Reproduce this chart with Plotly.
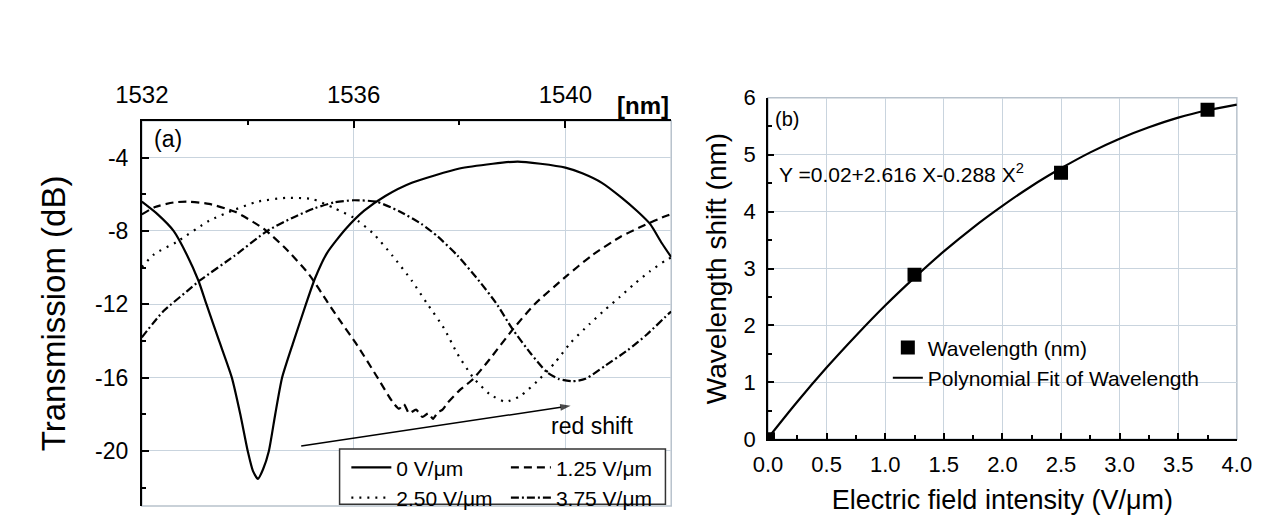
import plotly.graph_objects as go

# ---------------- Panel (a): transmission spectra ----------------
wl_0 = [1532.00, 1532.30, 1532.60, 1532.85, 1533.07, 1533.22, 1533.46, 1533.70, 1533.86, 1534.00,
        1534.10, 1534.195, 1534.29, 1534.40, 1534.52, 1534.65, 1534.87, 1535.10, 1535.27, 1535.50,
        1535.85, 1536.20, 1536.60, 1537.10, 1538.00, 1538.63, 1539.10, 1539.53, 1540.00, 1540.32,
        1540.69, 1541.05, 1541.36, 1541.60, 1541.82, 1542.00]
tr_0 = [-6.41, -7.10, -8.00, -9.30, -10.72, -12.00, -14.00, -16.00, -18.00, -20.00,
        -21.10, -21.52, -21.00, -20.00, -18.00, -16.00, -14.00, -12.00, -10.60, -9.20,
        -7.90, -6.90, -6.10, -5.38, -4.60, -4.34, -4.22, -4.34, -4.55, -4.86,
        -5.38, -6.16, -6.93, -7.62, -8.66, -9.43]

wl_125 = [1532.00, 1532.25, 1532.60, 1532.90, 1533.27, 1533.76, 1534.30, 1534.73, 1535.16, 1535.51,
          1535.78, 1536.06, 1536.43, 1536.73, 1536.86, 1536.95, 1537.05, 1537.18, 1537.30, 1537.41,
          1537.50, 1537.59, 1537.68, 1537.77, 1538.00, 1538.26, 1538.57, 1539.00, 1539.42, 1540.02,
          1540.50, 1541.05, 1541.48, 1541.90, 1542.00]
tr_125 = [-7.10, -6.70, -6.45, -6.41, -6.53, -6.96, -7.88, -9.00, -10.38, -11.90,
          -13.05, -14.20, -15.90, -17.30, -17.70, -17.45, -17.95, -17.75, -18.15, -17.95,
          -18.25, -17.90, -17.75, -17.40, -16.70, -16.07, -15.00, -13.40, -12.00, -10.47,
          -9.34, -8.31, -7.71, -7.19, -7.10]

wl_250 = [1532.00, 1532.23, 1532.66, 1533.27, 1533.76, 1534.18, 1534.73, 1535.22, 1535.63, 1536.00,
          1536.37, 1536.73, 1537.10, 1537.38, 1537.71, 1537.96, 1538.26, 1538.57, 1538.87, 1539.15,
          1539.47, 1539.80, 1540.10, 1540.45, 1540.75, 1541.03, 1541.30, 1541.60, 1541.90, 1542.00]
tr_250 = [-9.97, -9.28, -8.60, -7.45, -6.84, -6.41, -6.20, -6.27, -6.76, -7.28,
          -8.14, -9.34, -10.72, -11.93, -13.32, -14.70, -16.00, -16.90, -17.32, -17.00,
          -16.20, -15.20, -14.10, -13.10, -12.30, -11.60, -10.90, -10.20, -9.60, -9.45]

wl_375 = [1532.00, 1532.40, 1532.85, 1533.09, 1533.76, 1534.37, 1534.85, 1535.27, 1535.63, 1536.00,
          1536.43, 1536.86, 1537.28, 1537.59, 1537.96, 1538.32, 1538.69, 1539.00, 1539.35, 1539.65,
          1539.87, 1540.14, 1540.38, 1540.75, 1541.18, 1541.54, 1541.97, 1542.00]
tr_375 = [-13.81, -12.40, -11.30, -10.72, -9.34, -8.00, -7.28, -6.76, -6.45, -6.33,
          -6.41, -6.93, -7.62, -8.31, -9.34, -10.55, -11.93, -13.35, -14.70, -15.70,
          -16.07, -16.20, -16.07, -15.36, -14.50, -13.65, -12.47, -12.40]

spectra_names = ["0 V/\u03bcm", "1.25 V/\u03bcm", "2.50 V/\u03bcm", "3.75 V/\u03bcm"]
top_ticks = [1532, 1536, 1540]
left_yticks = [-4, -8, -12, -16, -20]
left_ytext = ["-4", "-8", "-12", "-16", "-20"]

# "red shift" arrow: tail and head (nm, dB)
arrow_wl = [1535.01, 1540.10]
arrow_tr = [-19.73, -17.54]

# ---------------- Panel (b): wavelength shift ----------------
field = [0.0, 1.25, 2.5, 3.75]
shift = [0.0, 2.89, 4.68, 5.79]
fit_x = [0.0, 0.25, 0.5, 0.75, 1.0, 1.25, 1.5, 1.75, 2.0, 2.25, 2.5, 2.75, 3.0, 3.25, 3.5, 3.75, 4.0]
fit_y = [0.02, 0.66, 1.26, 1.82, 2.35, 2.84, 3.30, 3.72, 4.10, 4.45, 4.76, 5.04, 5.28, 5.48, 5.65, 5.78, 5.88]

FONT = "Liberation Sans, Arial, sans-serif"
GRID = "#c9d4de"
FRAME = "#b8c2cc"

fig = go.Figure()

dash_styles = ["solid", "8px,5px", "2px,6px", "8px,3px,2px,3px"]
legends_a = ["legend", "legend2", "legend", "legend2"]
for xs, ys, name, dash, lg in zip([wl_0, wl_125, wl_250, wl_375], [tr_0, tr_125, tr_250, tr_375],
                                  spectra_names, dash_styles, legends_a):
    fig.add_trace(go.Scatter(x=xs, y=ys, mode="lines", name=name, legend=lg,
                             line=dict(color="black", width=2.2, dash=dash, shape="spline", smoothing=0.6),
                             xaxis="x", yaxis="y"))

fig.add_trace(go.Scatter(x=arrow_wl, y=arrow_tr, mode="lines+markers", showlegend=False, hoverinfo="skip",
                         line=dict(color="black", width=1.5),
                         marker=dict(symbol=["circle", "arrow"], size=[0, 11], color="black",
                                     angleref="previous", line=dict(width=0)),
                         xaxis="x", yaxis="y"))

fig.add_trace(go.Scatter(x=field, y=shift, mode="markers", name="Wavelength (nm)", legend="legend3",
                         marker=dict(symbol="square", size=14, color="black"),
                         xaxis="x2", yaxis="y2"))
fig.add_trace(go.Scatter(x=fit_x, y=fit_y, mode="lines", name="Polynomial Fit of Wavelength", legend="legend3",
                         line=dict(color="black", width=2.2, shape="spline"),
                         xaxis="x2", yaxis="y2"))

axis_common = dict(ticks="inside", tickcolor="black", tickwidth=1.5, showline=True, linecolor="black",
                   linewidth=1.8, gridcolor=GRID, gridwidth=1, zeroline=False)

fig.update_layout(
    width=1270, height=515,
    margin=dict(l=0, r=0, t=0, b=0),
    paper_bgcolor="white", plot_bgcolor="white",
    font=dict(family=FONT, color="black"),
    xaxis=dict(domain=[0.0870, 0.5181], range=[1532, 1542], side="top", anchor="y",
               tickvals=top_ticks, ticklen=7, ticklabelstandoff=6,
               tickfont=dict(family=FONT, size=24, color="black"),
               minor=dict(dtick=2, tick0=1532, ticks="inside", ticklen=4, tickcolor="black", showgrid=False),
               **axis_common),
    yaxis=dict(domain=[0.0083, 0.7942], range=[-23, -2], anchor="x",
               tickvals=left_yticks, ticktext=left_ytext, ticklen=7, ticklabelstandoff=7,
               tickfont=dict(family=FONT, size=23, color="black"),
               minor=dict(dtick=2, tick0=-2, ticks="inside", ticklen=4, tickcolor="black", showgrid=False),
               title=dict(text="Transmissiom (dB)", font=dict(family=FONT, size=33), standoff=20),
               **axis_common),
    xaxis2=dict(domain=[0.5969, 0.9787], range=[0, 4], anchor="y2", dtick=0.5, tick0=0, tickformat=".1f",
                ticklen=6, ticklabelstandoff=4,
                tickfont=dict(family=FONT, size=22, color="black"),
                minor=dict(dtick=0.25, tick0=0, ticks="inside", ticklen=4, tickcolor="black", showgrid=False),
                title=dict(text="Electric field intensity (V/\u03bcm)", font=dict(family=FONT, size=27), standoff=15),
                **axis_common),
    yaxis2=dict(domain=[0.1443, 0.8414], range=[0, 6], anchor="x2", dtick=1, tick0=0,
                ticklen=6, ticklabelstandoff=6,
                tickfont=dict(family=FONT, size=22, color="black"),
                minor=dict(dtick=0.5, tick0=0, ticks="inside", ticklen=4, tickcolor="black", showgrid=False),
                title=dict(text="Wavelength shift (nm)", font=dict(family=FONT, size=28), standoff=9),
                **axis_common),
    legend=dict(x=322 / 1270, y=1 - 449 / 515, xanchor="left", yanchor="top", bgcolor="rgba(0,0,0,0)",
                borderwidth=0, itemwidth=40, font=dict(family=FONT, size=21), tracegroupgap=0),
    legend2=dict(x=487 / 1270, y=1 - 449 / 515, xanchor="left", yanchor="top", bgcolor="rgba(0,0,0,0)",
                 borderwidth=0, itemwidth=40, font=dict(family=FONT, size=21), tracegroupgap=0),
    legend3=dict(x=882 / 1270, y=1 - 323 / 515, xanchor="left", yanchor="top", bgcolor="rgba(0,0,0,0)",
                 borderwidth=0, font=dict(family=FONT, size=21), tracegroupgap=0),
    showlegend=True,
)

# light frames on the far sides of both panels, and the legend box of panel (a)
fig.add_shape(type="rect", xref="x domain", yref="y domain", x0=0, x1=1, y0=0, y1=1,
              line=dict(color=FRAME, width=1.5), layer="below")
fig.add_shape(type="rect", xref="x2 domain", yref="y2 domain", x0=0, x1=1, y0=0, y1=1,
              line=dict(color=FRAME, width=1.5), layer="below")
fig.add_shape(type="rect", xref="paper", yref="paper", x0=315 / 1270, x1=652 / 1270,
              y0=1 - 509 / 515, y1=1 - 451 / 515, line=dict(color="#333333", width=1.5),
              fillcolor="white", layer="above")

# annotations
fig.add_annotation(x=1, y=1, xref="x domain", yref="y domain", text="<b>[nm]</b>", showarrow=False,
                   xanchor="right", yanchor="bottom", yshift=0, font=dict(family=FONT, size=24))
fig.add_annotation(x=1532.5, y=-3.0, xref="x", yref="y", text="(a)", showarrow=False,
                   font=dict(family=FONT, size=23))
fig.add_annotation(x=1540.51, y=-18.63, xref="x", yref="y", text="red shift", showarrow=False,
                   font=dict(family=FONT, size=23))
fig.add_annotation(x=0.16, y=5.63, xref="x2", yref="y2", text="(b)", showarrow=False,
                   font=dict(family=FONT, size=20))
fig.add_annotation(x=0.08, y=4.68, xref="x2", yref="y2", text="Y =0.02+2.616 X-0.288 X<sup>2</sup>",
                   showarrow=False, xanchor="left", font=dict(family=FONT, size=21))

fig.write_html("out.html")
